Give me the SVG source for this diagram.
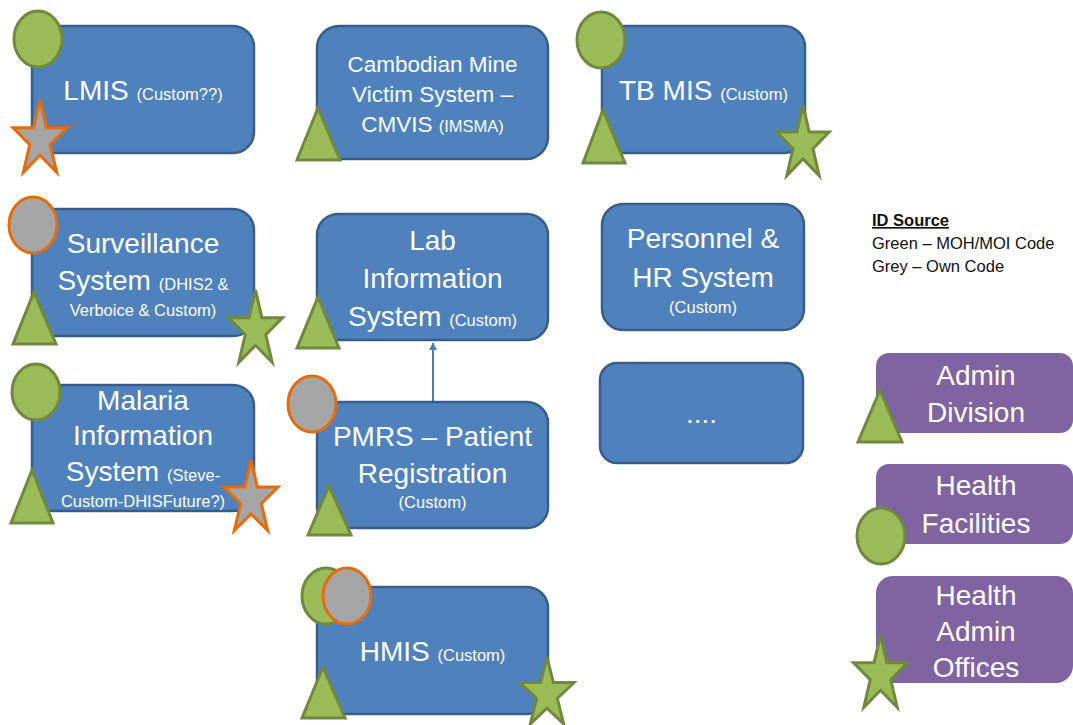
<svg xmlns="http://www.w3.org/2000/svg" width="1073" height="725" viewBox="0 0 1073 725">
<style>
.box{fill:#4F81BD;stroke:#385D8A;stroke-width:2.5}
.pbox{fill:#8064A2}
.t{font-family:"Liberation Sans",Arial,sans-serif;fill:#FFFFFF;text-anchor:middle;font-size:28px}
.cm{font-size:22.5px}
.s{font-size:16.5px}
.gr{fill:#9BBB59;stroke:#71893F;stroke-width:3}
.gy{fill:#A5A5A5;stroke:#E46C0A;stroke-width:3}
.lg{font-family:"Liberation Sans",Arial,sans-serif;font-size:16.5px;fill:#111}
</style>
<defs>
<polygon id="star" vector-effect="non-scaling-stroke" points="0,-1 0.2245,-0.309 0.951,-0.309 0.3633,0.118 0.5878,0.809 0,0.382 -0.5878,0.809 -0.3633,0.118 -0.951,-0.309 -0.2245,-0.309"/>
<marker id="ah" viewBox="0 0 10 10" refX="9" refY="5" markerWidth="4" markerHeight="4" orient="auto">
<path d="M0,0 L10,5 L0,10 z" fill="#4A7EBB"/>
</marker>
</defs>
<rect width="1073" height="725" fill="#FFFFFF"/>

<g id="connectors">
<line x1="433" y1="402" x2="433" y2="343" stroke="#4A7EBB" stroke-width="2" marker-end="url(#ah)"/>
</g>

<g id="lmis">
<rect class="box" x="32" y="26" width="222" height="127" rx="21"/>
<text class="t" x="143" y="100">LMIS <tspan class="s">(Custom??)</tspan></text>
<ellipse class="gr" cx="38" cy="39" rx="24" ry="28"/>
<use href="#star" class="gy" transform="translate(40,140) scale(28.4,40)"/>
</g>

<g id="surveillance">
<rect class="box" x="32" y="209" width="222" height="127" rx="21"/>
<text class="t" x="143" y="253">Surveillance</text>
<text class="t" x="143" y="290">System <tspan class="s">(DHIS2 &amp;</tspan></text>
<text class="t s" x="143" y="316">Verboice &amp; Custom)</text>
<ellipse class="gy" cx="33" cy="225" rx="24" ry="28"/>
<polygon class="gr" points="34,292 56,344 13,344"/>
<use href="#star" class="gr" transform="translate(255.5,330) scale(28.4,40)"/>
</g>

<g id="malaria">
<rect class="box" x="32" y="385" width="222" height="126" rx="21"/>
<text class="t" x="143" y="410">Malaria</text>
<text class="t" x="143" y="445">Information</text>
<text class="t" x="143" y="481">System <tspan class="s">(Steve-</tspan></text>
<text class="t s" x="143" y="507">Custom-DHISFuture?)</text>
<ellipse class="gr" cx="36" cy="392" rx="24" ry="28"/>
<polygon class="gr" points="32,470 53,523 11,523"/>
<use href="#star" class="gy" transform="translate(251,499) scale(28.4,39)"/>
</g>

<g id="cmvis">
<rect class="box" x="317" y="26" width="231" height="133" rx="22"/>
<text class="t cm" x="432.5" y="72">Cambodian Mine</text>
<text class="t cm" x="432.5" y="102">Victim System –</text>
<text class="t cm" x="432.5" y="132">CMVIS <tspan class="s">(IMSMA)</tspan></text>
<polygon class="gr" points="318,108 340,160 297,160"/>
</g>

<g id="lab">
<rect class="box" x="317" y="214" width="231" height="126" rx="21"/>
<text class="t" x="432.5" y="250">Lab</text>
<text class="t" x="432.5" y="288">Information</text>
<text class="t" x="432.5" y="326">System <tspan class="s">(Custom)</tspan></text>
<polygon class="gr" points="318,297 339,348 297,348"/>
</g>

<g id="pmrs">
<rect class="box" x="317" y="402" width="231" height="126" rx="21"/>
<text class="t" x="432.5" y="446">PMRS – Patient</text>
<text class="t" x="432.5" y="483">Registration</text>
<text class="t s" x="432.5" y="508">(Custom)</text>
<ellipse class="gy" cx="312" cy="404" rx="24" ry="28"/>
<polygon class="gr" points="329,486 351,535 308,535"/>
</g>

<g id="hmis">
<rect class="box" x="317" y="587" width="231" height="127" rx="21"/>
<text class="t" x="432.5" y="661">HMIS <tspan class="s">(Custom)</tspan></text>
<ellipse class="gr" cx="326" cy="596" rx="24" ry="28"/>
<ellipse class="gy" cx="347" cy="596" rx="24" ry="28"/>
<polygon class="gr" points="323,667 345,718 302,718"/>
<use href="#star" class="gr" transform="translate(547,694) scale(28.4,37)"/>
</g>

<g id="tbmis">
<rect class="box" x="602" y="26" width="203" height="127" rx="21"/>
<text class="t" x="703.5" y="100">TB MIS <tspan class="s">(Custom)</tspan></text>
<ellipse class="gr" cx="601" cy="40" rx="24" ry="28"/>
<polygon class="gr" points="603,110 625,163 583,163"/>
<use href="#star" class="gr" transform="translate(803,144) scale(27.5,39)"/>
</g>

<g id="personnel">
<rect class="box" x="602" y="204" width="202" height="126" rx="21"/>
<text class="t" x="703" y="248">Personnel &amp;</text>
<text class="t" x="703" y="287">HR System</text>
<text class="t s" x="703" y="313">(Custom)</text>
</g>

<g id="more">
<rect class="box" x="600" y="363" width="203" height="100" rx="17"/>
<text class="t" x="701.5" y="423">....</text>
</g>

<g id="legend">
<text class="lg" x="872" y="226" font-weight="bold" text-decoration="underline">ID Source</text>
<text class="lg" x="872" y="249">Green – MOH/MOI Code</text>
<text class="lg" x="872" y="272">Grey – Own Code</text>
</g>

<g id="admin-division">
<rect class="pbox" x="876" y="353" width="197" height="80" rx="13"/>
<text class="t" x="976" y="385">Admin</text>
<text class="t" x="976" y="422">Division</text>
<polygon class="gr" points="880,390 902,442 858,442"/>
</g>

<g id="health-facilities">
<rect class="pbox" x="876" y="464" width="197" height="80" rx="13"/>
<text class="t" x="976" y="495">Health</text>
<text class="t" x="976" y="533">Facilities</text>
<ellipse class="gr" cx="881" cy="536" rx="24" ry="28"/>
</g>

<g id="health-admin-offices">
<rect class="pbox" x="876" y="576" width="197" height="107" rx="17"/>
<text class="t" x="976" y="605">Health</text>
<text class="t" x="976" y="641">Admin</text>
<text class="t" x="976" y="677">Offices</text>
<use href="#star" class="gr" transform="translate(880.5,675) scale(28.4,40)"/>
</g>
</svg>
